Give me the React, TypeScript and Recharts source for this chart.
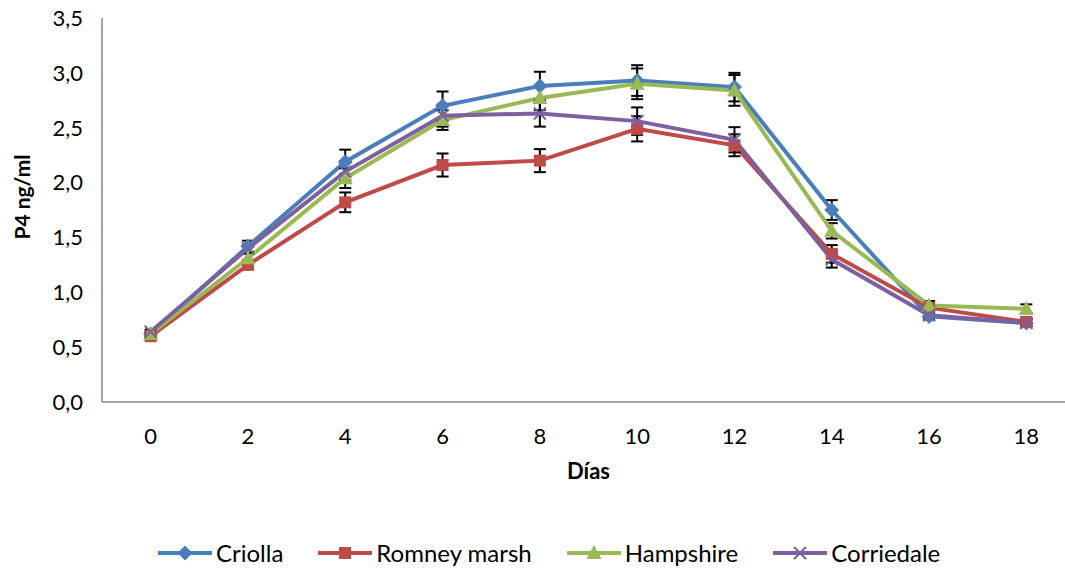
import React from 'react';
import { LineChart, Line, XAxis, YAxis, ErrorBar, Label } from 'recharts';

// Progesterone (P4, ng/ml) by day of the cycle for four sheep breeds
const days = ['0', '2', '4', '6', '8', '10', '12', '14', '16', '18'];

const criolla = [0.62, 1.42, 2.19, 2.70, 2.88, 2.93, 2.87, 1.75, 0.78, 0.72];
const romney = [0.60, 1.25, 1.82, 2.16, 2.20, 2.49, 2.34, 1.35, 0.86, 0.73];
const hampshire = [0.62, 1.31, 2.04, 2.57, 2.77, 2.90, 2.84, 1.56, 0.88, 0.85];
const corriedale = [0.64, 1.40, 2.10, 2.61, 2.63, 2.56, 2.39, 1.30, 0.79, 0.72];

// Standard errors
const criollaErr = [0.02, 0.05, 0.11, 0.13, 0.13, 0.14, 0.13, 0.09, 0.03, 0.03];
const romneyErr = [0.02, 0.04, 0.09, 0.105, 0.105, 0.115, 0.10, 0.08, 0.04, 0.03];
const hampshireErr = [0.02, 0.04, 0.09, 0.09, 0.11, 0.14, 0.14, 0.07, 0.04, 0.04];
const corriedaleErr = [0.02, 0.04, 0.08, 0.10, 0.12, 0.125, 0.115, 0.075, 0.03, 0.03];

const yTicks = [0, 0.5, 1, 1.5, 2, 2.5, 3, 3.5];

const seriesNames = ['Criolla', 'Romney marsh', 'Hampshire', 'Corriedale'];
const colors = ['#4A7EBB', '#BE4B48', '#98B954', '#7D60A0'];

const data = days.map((day, i) => ({
  day,
  criolla: criolla[i],
  criollaErr: criollaErr[i],
  romney: romney[i],
  romneyErr: romneyErr[i],
  hampshire: hampshire[i],
  hampshireErr: hampshireErr[i],
  corriedale: corriedale[i],
  corriedaleErr: corriedaleErr[i],
}));

const FONT = 'Lato, "DejaVu Sans", sans-serif';

type MarkerProps = { cx?: number; cy?: number; color: string };

const Diamond = ({ cx = 0, cy = 0, color }: MarkerProps) => (
  <path d={`M${cx},${cy - 7.5}L${cx + 7.5},${cy}L${cx},${cy + 7.5}L${cx - 7.5},${cy}Z`} fill={color} />
);
const Square = ({ cx = 0, cy = 0, color }: MarkerProps) => (
  <rect x={cx - 6} y={cy - 6} width={12} height={12} fill={color} />
);
const Triangle = ({ cx = 0, cy = 0, color }: MarkerProps) => (
  <path d={`M${cx},${cy - 8}L${cx + 7.5},${cy + 6}L${cx - 7.5},${cy + 6}Z`} fill={color} />
);
const Cross = ({ cx = 0, cy = 0, color }: MarkerProps) => (
  <path
    d={`M${cx - 6},${cy - 6}L${cx + 6},${cy + 6}M${cx + 6},${cy - 6}L${cx - 6},${cy + 6}`}
    stroke={color}
    strokeWidth={2}
    fill="none"
  />
);

const markers = [Diamond, Square, Triangle, Cross];

const makeDot = (idx: number) => (props: any) => {
  const M = markers[idx];
  return <M key={`dot-${idx}-${props.index}`} cx={props.cx} cy={props.cy} color={colors[idx]} />;
};

const fmt = (v: number) => v.toFixed(1).replace('.', ',');

const LegendItem = ({ idx }: { idx: number }) => {
  const M = markers[idx];
  return (
    <div style={{ display: 'flex', alignItems: 'center', marginRight: 34 }}>
      <svg width={56} height={20} style={{ display: 'block' }}>
        <line x1={1} y1={10} x2={55} y2={10} stroke={colors[idx]} strokeWidth={4} />
        <M cx={28} cy={10} color={colors[idx]} />
      </svg>
      <span style={{ marginLeft: 3, fontSize: 24, fontFamily: FONT, color: '#000', lineHeight: '26px' }}>
        {seriesNames[idx]}
      </span>
    </div>
  );
};

export default function App() {
  const keys = ['criolla', 'romney', 'hampshire', 'corriedale'];
  return (
    <div
      style={{
        position: 'fixed',
        left: 0,
        top: 0,
        width: 1065,
        height: 569,
        overflow: 'hidden',
        background: '#fff',
      }}
    >
      <LineChart
        width={1080}
        height={569}
        data={data}
        margin={{ top: 18, right: 5, left: 0, bottom: 0 }}
      >
        <XAxis
          dataKey="day"
          scale="band"
          height={167}
          axisLine={{ stroke: '#868686', strokeWidth: 1.5 }}
          tickLine={false}
          tickSize={6}
          tickMargin={20}
          tick={{ fontSize: 22, fill: '#000', fontFamily: FONT }}
          label={
            <Label
              content={({ viewBox }: any) => (
                <text
                  x={viewBox.x + viewBox.width / 2}
                  y={viewBox.y + 77}
                  textAnchor="middle"
                  fontSize={22}
                  fontWeight="bold"
                  fontFamily={FONT}
                  fill="#000"
                >
                  Días
                </text>
              )}
            />
          }
        />
        <YAxis
          width={102}
          domain={[0, 3.5]}
          ticks={yTicks}
          tickFormatter={fmt}
          axisLine={{ stroke: '#868686', strokeWidth: 1.5 }}
          tickLine={false}
          tickSize={6}
          tickMargin={13}
          tick={{ fontSize: 22, fill: '#000', fontFamily: FONT }}
          label={
            <Label
              content={({ viewBox }: any) => {
                const x = 30;
                const y = viewBox.y + viewBox.height / 2 - 13;
                return (
                  <text
                    x={x}
                    y={y}
                    transform={`rotate(-90 ${x} ${y})`}
                    textAnchor="middle"
                    fontSize={21}
                    fontWeight="bold"
                    fontFamily={FONT}
                    fill="#000"
                  >
                    P4 ng/ml
                  </text>
                );
              }}
            />
          }
        />
        {keys.map((k, i) => (
          <Line
            key={k}
            type="linear"
            dataKey={k}
            name={seriesNames[i]}
            stroke={colors[i]}
            strokeWidth={4}
            dot={makeDot(i)}
            activeDot={false}
            isAnimationActive={false}
          >
            <ErrorBar dataKey={`${k}Err`} width={6} stroke="#000" strokeWidth={2} direction="y" />
          </Line>
        ))}
      </LineChart>
      <div
        style={{
          position: 'absolute',
          left: 157,
          top: 540,
          display: 'flex',
          alignItems: 'center',
        }}
      >
        {seriesNames.map((_, i) => (
          <LegendItem key={i} idx={i} />
        ))}
      </div>
    </div>
  );
}
